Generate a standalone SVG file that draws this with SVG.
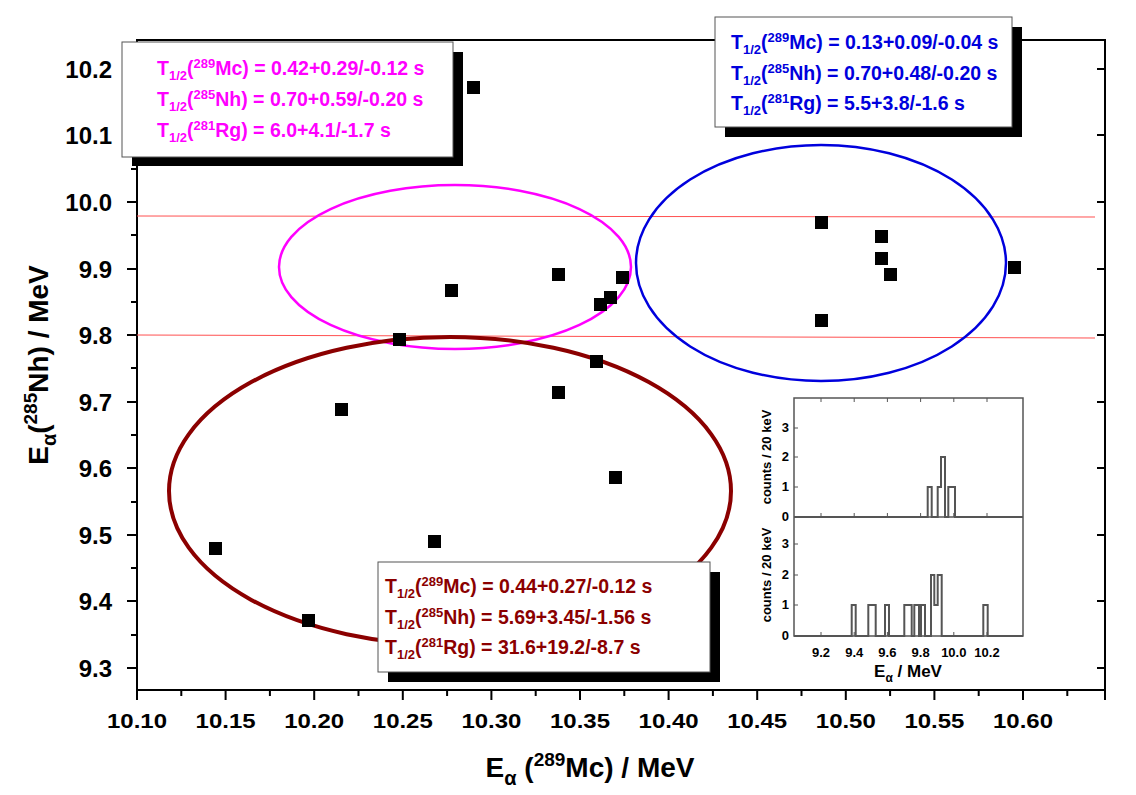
<svg xmlns="http://www.w3.org/2000/svg" width="1136" height="795" viewBox="0 0 1136 795">
<style>
text{font-family:"Liberation Sans",Arial,sans-serif;font-weight:bold}
.ax{stroke:#000;stroke-width:2;fill:none}
.tk{font-size:24px;fill:#000}
.pt{fill:#000}
.m{fill:#ff00ff;font-size:19.5px}
.b{fill:#0000dd;font-size:19.5px}
.r{fill:#8b0000;font-size:19.5px}
.in{font-size:13px}
.h{stroke:#555;stroke-width:2;fill:none}
</style>
<rect width="1136" height="795" fill="#fff"/>
<g id="frame">
<rect x="137" y="40" width="968" height="650" class="ax"/>
<path class="ax" d="M137,690v10M225.6,690v10M314.2,690v10M402.8,690v10M491.4,690v10M580,690v10M668.6,690v10M757.2,690v10M845.8,690v10M934.4,690v10M1023,690v10M1105,690v10
M181.3,690v6M269.9,690v6M358.5,690v6M447.1,690v6M535.7,690v6M624.3,690v6M712.9,690v6M801.5,690v6M890.1,690v6M978.7,690v6M1067.3,690v6
M137,668h-10M137,601h-10M137,535h-10M137,468h-10M137,402h-10M137,335h-10M137,269h-10M137,202h-10M137,135h-10M137,69h-10
M137,635h-6M137,568h-6M137,502h-6M137,435h-6M137,368h-6M137,302h-6M137,235h-6M137,169h-6M137,102h-6
M1105,668h-8M1105,601h-8M1105,535h-8M1105,468h-8M1105,402h-8M1105,335h-8M1105,269h-8M1105,202h-8M1105,135h-8M1105,69h-8"/>
<g class="tk" text-anchor="end">
<text x="112" y="677">9.3</text><text x="112" y="610">9.4</text><text x="112" y="544">9.5</text><text x="112" y="477">9.6</text><text x="112" y="411">9.7</text><text x="112" y="344">9.8</text><text x="112" y="278">9.9</text><text x="112" y="211">10.0</text><text x="112" y="144">10.1</text><text x="112" y="78">10.2</text>
</g>
<g class="tk" text-anchor="middle" style="font-size:21px">
<text x="137" y="728" textLength="60" lengthAdjust="spacingAndGlyphs">10.10</text><text x="225.6" y="728" textLength="60" lengthAdjust="spacingAndGlyphs">10.15</text><text x="314.2" y="728" textLength="60" lengthAdjust="spacingAndGlyphs">10.20</text><text x="402.8" y="728" textLength="60" lengthAdjust="spacingAndGlyphs">10.25</text><text x="491.4" y="728" textLength="60" lengthAdjust="spacingAndGlyphs">10.30</text><text x="580" y="728" textLength="60" lengthAdjust="spacingAndGlyphs">10.35</text><text x="668.6" y="728" textLength="60" lengthAdjust="spacingAndGlyphs">10.40</text><text x="757.2" y="728" textLength="60" lengthAdjust="spacingAndGlyphs">10.45</text><text x="845.8" y="728" textLength="60" lengthAdjust="spacingAndGlyphs">10.50</text><text x="934.4" y="728" textLength="60" lengthAdjust="spacingAndGlyphs">10.55</text><text x="1023" y="728" textLength="60" lengthAdjust="spacingAndGlyphs">10.60</text>
</g>
<text x="590" y="777" text-anchor="middle" style="font-size:28px">E<tspan dy="8" font-size="20">α</tspan><tspan dy="-8"> (</tspan><tspan dy="-11" font-size="19">289</tspan><tspan dy="11">Mc) / MeV</tspan></text>
<text transform="translate(48,365) rotate(-90)" text-anchor="middle" style="font-size:28px">E<tspan dy="8" font-size="20">α</tspan><tspan dy="-8">(</tspan><tspan dy="-11" font-size="19">285</tspan><tspan dy="11">Nh) / MeV</tspan></text>
</g>
<g id="connectors">
<line x1="137" y1="216" x2="1095" y2="217" stroke="#ff5050" stroke-width="1"/>
<line x1="137" y1="335" x2="1095" y2="338" stroke="#ff5050" stroke-width="1"/>
<ellipse cx="455" cy="267" rx="176" ry="82" fill="none" stroke="#ff00ff" stroke-width="2.5"/>
<ellipse cx="821" cy="263" rx="185" ry="118" fill="none" stroke="#0000dd" stroke-width="2.5"/>
<ellipse cx="450" cy="491" rx="281" ry="154" fill="none" stroke="#8b0000" stroke-width="4"/>
</g>
<g id="points" class="pt">
<rect x="467" y="81" width="13" height="13"/><rect x="815" y="216" width="13" height="13"/><rect x="875" y="230" width="13" height="13"/><rect x="875" y="252" width="13" height="13"/><rect x="1008" y="261" width="13" height="13"/><rect x="884" y="268" width="13" height="13"/><rect x="552" y="268" width="13" height="13"/><rect x="616" y="271" width="13" height="13"/><rect x="445" y="284" width="13" height="13"/><rect x="604" y="291" width="13" height="13"/><rect x="594" y="298" width="13" height="13"/><rect x="815" y="314" width="13" height="13"/><rect x="393" y="333" width="13" height="13"/><rect x="590" y="355" width="13" height="13"/><rect x="552" y="386" width="13" height="13"/><rect x="335" y="403" width="13" height="13"/><rect x="609" y="471" width="13" height="13"/><rect x="209" y="542" width="13" height="13"/><rect x="428" y="535" width="13" height="13"/><rect x="302" y="614" width="13" height="13"/>
</g>
<g id="box-magenta">
<rect x="132" y="52" width="331" height="114" fill="#000"/>
<rect x="122" y="42" width="331" height="115" fill="#fff" stroke="#555" stroke-width="1"/>
<text class="m" x="157" y="75">T<tspan dy="5" font-size="13">1/2</tspan><tspan dy="-5">(</tspan><tspan dy="-7" font-size="13">289</tspan><tspan dy="7">Mc) = 0.42+0.29/-0.12 s</tspan></text>
<text class="m" x="157" y="106">T<tspan dy="5" font-size="13">1/2</tspan><tspan dy="-5">(</tspan><tspan dy="-7" font-size="13">285</tspan><tspan dy="7">Nh) = 0.70+0.59/-0.20 s</tspan></text>
<text class="m" x="157" y="137">T<tspan dy="5" font-size="13">1/2</tspan><tspan dy="-5">(</tspan><tspan dy="-7" font-size="13">281</tspan><tspan dy="7">Rg) = 6.0+4.1/-1.7 s</tspan></text>
</g>
<g id="box-blue">
<rect x="725" y="27" width="297" height="110" fill="#000"/>
<rect x="715" y="17" width="297" height="110" fill="#fff" stroke="#555" stroke-width="1"/>
<text class="b" x="731" y="49">T<tspan dy="5" font-size="13">1/2</tspan><tspan dy="-5">(</tspan><tspan dy="-7" font-size="13">289</tspan><tspan dy="7">Mc) = 0.13+0.09/-0.04 s</tspan></text>
<text class="b" x="731" y="80">T<tspan dy="5" font-size="13">1/2</tspan><tspan dy="-5">(</tspan><tspan dy="-7" font-size="13">285</tspan><tspan dy="7">Nh) = 0.70+0.48/-0.20 s</tspan></text>
<text class="b" x="731" y="110">T<tspan dy="5" font-size="13">1/2</tspan><tspan dy="-5">(</tspan><tspan dy="-7" font-size="13">281</tspan><tspan dy="7">Rg) = 5.5+3.8/-1.6 s</tspan></text>
</g>
<g id="box-darkred">
<rect x="388" y="572" width="332" height="110" fill="#000"/>
<rect x="378" y="562" width="332" height="110" fill="#fff" stroke="#555" stroke-width="1"/>
<text class="r" x="385" y="593">T<tspan dy="5" font-size="13">1/2</tspan><tspan dy="-5">(</tspan><tspan dy="-7" font-size="13">289</tspan><tspan dy="7">Mc) = 0.44+0.27/-0.12 s</tspan></text>
<text class="r" x="385" y="624">T<tspan dy="5" font-size="13">1/2</tspan><tspan dy="-5">(</tspan><tspan dy="-7" font-size="13">285</tspan><tspan dy="7">Nh) = 5.69+3.45/-1.56 s</tspan></text>
<text class="r" x="385" y="654">T<tspan dy="5" font-size="13">1/2</tspan><tspan dy="-5">(</tspan><tspan dy="-7" font-size="13">281</tspan><tspan dy="7">Rg) = 31.6+19.2/-8.7 s</tspan></text>
</g>
<g id="inset">
<rect x="794" y="398" width="229" height="238" fill="#fff" stroke="#555" stroke-width="1.5"/>
<line x1="794" y1="517" x2="1023" y2="517" stroke="#555" stroke-width="1.5"/>
<path stroke="#555" stroke-width="1" d="M794,487h4M794,457h4M794,428h4M794,605h4M794,575h4M794,544h4M821,636v-4M854.2,636v-4M887.4,636v-4M920.6,636v-4M953.8,636v-4M987,636v-4M821,398v4M854.2,398v4M887.4,398v4M920.6,398v4M953.8,398v4M987,398v4M821,517v-4M854.2,517v-4M887.4,517v-4M920.6,517v-4M953.8,517v-4M987,517v-4"/>
<path class="h" d="M794,517H927.7V487H931.7V517H937.7V487H941V457H945V517H948.3V487H955V517H1023"/>
<path class="h" d="M794,636H851.7V605H855.7V636H868.3V605H875.7V636H885V605H889V636H904.3V605H911.7V636H914.3V605H919V636H921V605H925V636H931V575H934.3V605H937.7V575H941.7V636H983.3V605H987.7V636H1023"/>
<g class="in" text-anchor="end">
<text x="789" y="521">0</text><text x="789" y="491">1</text><text x="789" y="461">2</text><text x="789" y="432">3</text>
<text x="789" y="640">0</text><text x="789" y="609">1</text><text x="789" y="579">2</text><text x="789" y="548">3</text>
</g>
<g class="in" text-anchor="middle">
<text x="821" y="657">9.2</text><text x="854.2" y="657">9.4</text><text x="887.4" y="657">9.6</text><text x="920.6" y="657">9.8</text><text x="953.8" y="657">10.0</text><text x="987" y="657">10.2</text>
</g>
<text class="in" transform="translate(771,457) rotate(-90)" text-anchor="middle">counts / 20 keV</text>
<text class="in" transform="translate(771,575) rotate(-90)" text-anchor="middle">counts / 20 keV</text>
<text x="908" y="677" text-anchor="middle" style="font-size:17px">E<tspan dy="5" font-size="12">α</tspan><tspan dy="-5"> / MeV</tspan></text>
</g>
</svg>
